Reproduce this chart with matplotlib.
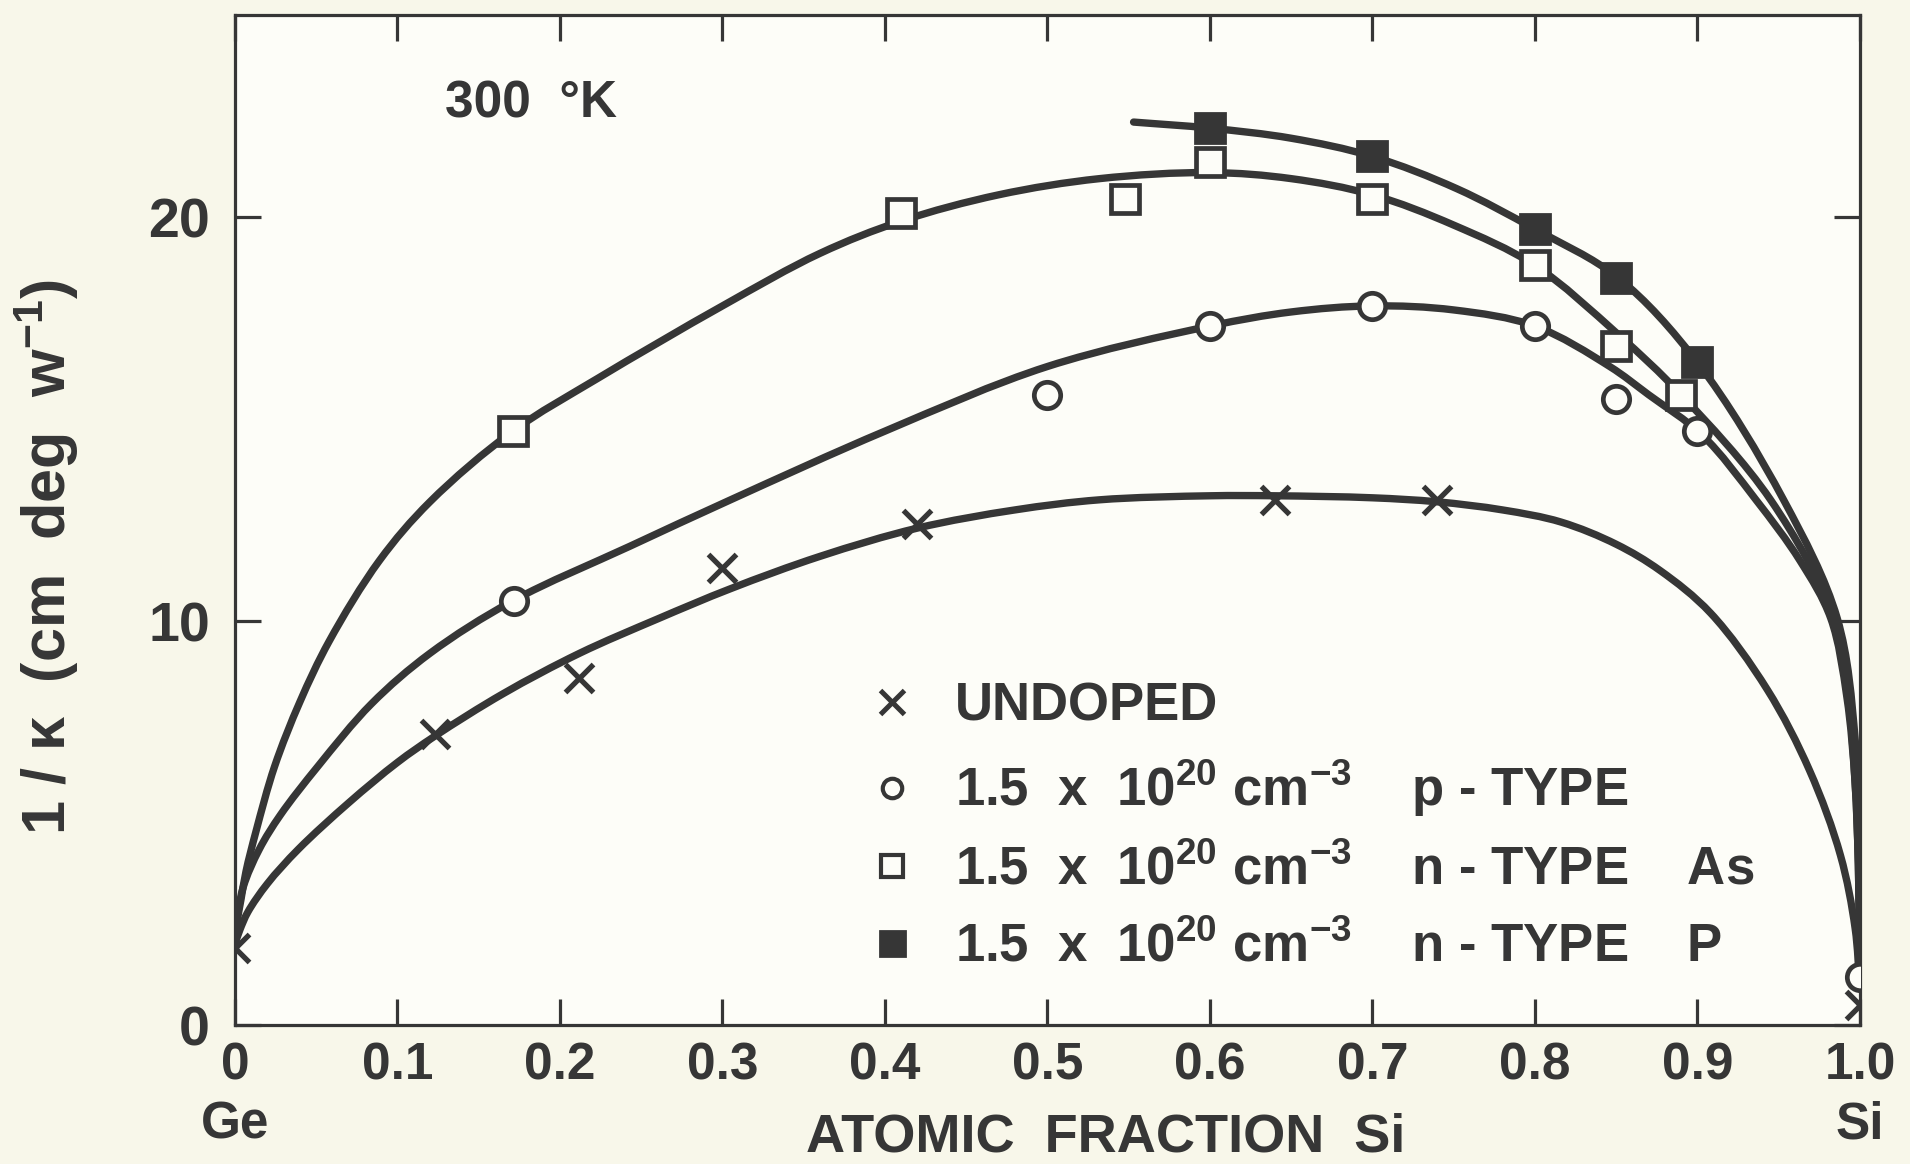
import matplotlib
matplotlib.use("Agg")
import matplotlib.pyplot as plt
import numpy as np
from matplotlib.lines import Line2D
from matplotlib.path import Path
from matplotlib.patches import PathPatch

plt.rcParams['font.family'] = ['Liberation Sans', 'DejaVu Sans']
plt.rcParams['font.weight'] = 'bold'
plt.rcParams['axes.labelweight'] = 'bold'
plt.rcParams['mathtext.fontset'] = 'custom'
plt.rcParams['mathtext.rm'] = 'Liberation Sans:bold'
plt.rcParams['mathtext.it'] = 'Liberation Sans:bold'
plt.rcParams['mathtext.bf'] = 'Liberation Sans:bold'
plt.rcParams['mathtext.default'] = 'rm'

ink = '#363636'
paper = '#f8f7ea'
inner = '#fdfdf8'

# measured points
x_undoped = [0.0, 0.123, 0.212, 0.30, 0.42, 0.64, 0.74, 1.0]
y_undoped = [1.9, 7.2, 8.6, 11.3, 12.4, 13.0, 13.0, 0.5]

x_p = [0.172, 0.50, 0.60, 0.70, 0.80, 0.85, 0.90, 1.0]
y_p = [10.5, 15.6, 17.3, 17.8, 17.3, 15.5, 14.7, 1.2]

x_as = [0.171, 0.41, 0.548, 0.60, 0.70, 0.80, 0.85, 0.89]
y_as = [14.7, 20.1, 20.45, 21.35, 20.45, 18.8, 16.8, 15.6]

x_P = [0.60, 0.70, 0.80, 0.85, 0.90]
y_P = [22.2, 21.5, 19.7, 18.5, 16.4]

# hand-drawn fit curves
cx_undoped = [0.0, 0.003, 0.008, 0.02, 0.039, 0.07, 0.1, 0.123, 0.165, 0.212,
              0.26, 0.305, 0.36, 0.42, 0.48, 0.532, 0.60, 0.64, 0.70, 0.74,
              0.78, 0.816, 0.85, 0.877, 0.908, 0.943, 0.969, 0.988, 0.997, 1.0]
cy_undoped = [2.0, 2.35, 2.8, 3.5, 4.35, 5.5, 6.5, 7.15, 8.2, 9.2,
              10.05, 10.8, 11.6, 12.3, 12.75, 13.0, 13.1, 13.1, 13.05, 12.95,
              12.75, 12.45, 11.9, 11.25, 10.2, 8.3, 6.3, 4.2, 2.4, 0.9]

cx_p = [0.0, 0.005, 0.015, 0.028, 0.051, 0.084, 0.12, 0.171, 0.243, 0.305,
        0.40, 0.50, 0.60, 0.65, 0.70, 0.75, 0.80, 0.846, 0.87, 0.903,
        0.936, 0.963, 0.982, 0.992, 0.997, 0.999, 1.0]
cy_p = [2.3, 3.4, 4.35, 5.2, 6.4, 7.95, 9.2, 10.5, 11.85, 13.0,
        14.7, 16.3, 17.3, 17.65, 17.8, 17.7, 17.3, 16.3, 15.6, 14.6,
        13.0, 11.5, 10.07, 8.1, 6.0, 4.0, 1.3]

cx_as = [0.0, 0.0037, 0.0068, 0.013, 0.0244, 0.04, 0.058, 0.089, 0.12, 0.171,
         0.223, 0.30, 0.36, 0.41, 0.47, 0.532, 0.60, 0.65, 0.70, 0.75,
         0.80, 0.851, 0.89, 0.945, 0.984, 0.993, 0.997, 0.999, 1.0]
cy_as = [2.3, 3.1, 3.8, 4.8, 6.4, 8.0, 9.5, 11.5, 12.95, 14.7,
         16.0, 17.8, 19.1, 19.9, 20.55, 20.95, 21.1, 20.95, 20.55, 19.8,
         18.8, 17.1, 15.6, 13.0, 10.07, 8.0, 6.0, 4.0, 1.3]

cx_P = [0.553, 0.60, 0.65, 0.70, 0.752, 0.80, 0.851, 0.90, 0.953, 0.986,
        0.997, 0.999, 1.0]
cy_P = [22.35, 22.2, 21.95, 21.5, 20.7, 19.7, 18.5, 16.4, 13.0, 10.07,
        7.1, 4.5, 1.4]

xticks = [0.0, 0.1, 0.2, 0.3, 0.4, 0.5, 0.6, 0.7, 0.8, 0.9, 1.0]
xticklabels = ['0\nGe', '0.1', '0.2', '0.3', '0.4', '0.5', '0.6', '0.7', '0.8', '0.9', '1.0\nSi']
yticks = [0, 10, 20]


def french_curve(ax, xs, ys):
    # centripetal catmull-rom through the knots, done in pixel space
    pts = ax.transData.transform(np.column_stack([xs, ys]))
    ext = np.vstack([2 * pts[0] - pts[1], pts, 2 * pts[-1] - pts[-2]])
    verts = [pts[0]]
    codes = [Path.MOVETO]
    for i in range(1, len(pts)):
        p0, p1, p2, p3 = ext[i - 1], ext[i], ext[i + 1], ext[i + 2]
        d1 = np.linalg.norm(p1 - p0) ** 0.5
        d2 = np.linalg.norm(p2 - p1) ** 0.5
        d3 = np.linalg.norm(p3 - p2) ** 0.5
        b1 = (d1**2 * p2 - d2**2 * p0 + (2 * d1**2 + 3 * d1 * d2 + d2**2) * p1) / (3 * d1 * (d1 + d2))
        b2 = (d3**2 * p1 - d2**2 * p3 + (2 * d3**2 + 3 * d3 * d2 + d2**2) * p2) / (3 * d3 * (d3 + d2))
        verts += [b1, b2, p2]
        codes += [Path.CURVE4] * 3
    verts = ax.transData.inverted().transform(np.array(verts))
    return Path(verts, codes)


fig = plt.figure(figsize=(19.1, 11.64), dpi=100, facecolor=paper)
ax = fig.add_axes([0.123, 0.1194, 0.8508, 0.8677], facecolor=inner)
ax.set_xlim(0, 1.0)
ax.set_ylim(0, 25)

for cx, cy in [(cx_undoped, cy_undoped), (cx_p, cy_p), (cx_as, cy_as), (cx_P, cy_P)]:
    ax.add_patch(PathPatch(french_curve(ax, cx, cy), fill=False, ec=ink, lw=5.3,
                           capstyle='round', joinstyle='round', zorder=2))

ax.plot(x_undoped, y_undoped, ls='none', marker='x', ms=20, mew=3.8, color=ink, zorder=4)
ax.plot(x_p, y_p, ls='none', marker='o', ms=19, mew=3.4, mec=ink, mfc=inner, zorder=3)
ax.plot(x_as, y_as, ls='none', marker='s', ms=20, mew=3.4, mec=ink, mfc=inner, zorder=3)
ax.plot(x_P, y_P, ls='none', marker='s', ms=22, mew=2, mec=ink, mfc=ink, zorder=3)

ax.set_xticks(xticks)
ax.set_xticklabels(xticklabels, fontsize=37, color=ink, linespacing=1.25)
ax.set_yticks(yticks)
ax.set_yticklabels([str(v) for v in yticks], fontsize=40, color=ink)
ax.tick_params(direction='in', length=19, width=2.3, color=ink, top=True, right=True)
ax.tick_params(axis='x', pad=12)
ax.tick_params(axis='y', pad=18)
for s in ax.spines.values():
    s.set_linewidth(2.3)
    s.set_color(ink)

ax.set_xlabel('ATOMIC  FRACTION  Si', fontsize=39, color=ink, va='center')
ax.xaxis.set_label_coords(0.536, -0.111)
ax.set_ylabel(r'1 / $\kappa$  (cm  deg  w$^{-1}$)', fontsize=44, color=ink, va='center')
ax.yaxis.set_label_coords(-0.116, 0.463)

ax.text(0.129, 22.8, '300  °K', fontsize=37, color=ink, ha='left', va='center')

handles = [
    Line2D([], [], ls='none', marker='x', ms=17, mew=3.6, color=ink),
    Line2D([], [], ls='none', marker='o', ms=14, mew=3, mec=ink, mfc=inner),
    Line2D([], [], ls='none', marker='s', ms=16, mew=3, mec=ink, mfc=inner),
    Line2D([], [], ls='none', marker='s', ms=18, mew=2, mec=ink, mfc=ink),
]
labels = [
    'UNDOPED',
    r'1.5  x  10$^{20}$ cm$^{-3}$    p - TYPE',
    r'1.5  x  10$^{20}$ cm$^{-3}$    n - TYPE    As',
    r'1.5  x  10$^{20}$ cm$^{-3}$    n - TYPE    P',
]
leg = ax.legend(handles, labels, loc='upper left', bbox_to_anchor=(0.388, 0.34),
                frameon=False, fontsize=38, handlelength=1.0, handletextpad=0.7,
                borderpad=0, borderaxespad=0, labelspacing=0.5)
for t in leg.get_texts():
    t.set_color(ink)

fig.savefig('out.png', dpi=100, facecolor=paper)
